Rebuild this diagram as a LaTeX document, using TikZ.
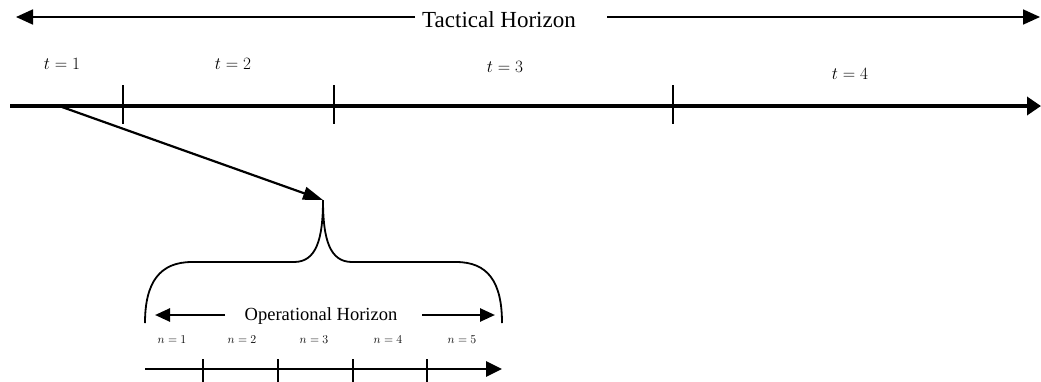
\documentclass[tikz,border=0pt]{standalone}
\usepackage{fontspec}
\setmainfont{Liberation Serif}
\usetikzlibrary{arrows.meta}
\begin{document}
\begin{tikzpicture}[x=1pt,y=-1pt,
  thinarrow/.style={line width=1.8pt,-{Triangle[length=17pt,width=15pt]}},
  mainaxis/.style={line width=4.5pt,-{Triangle[length=14pt,width=18pt]}},
  diagarrow/.style={line width=2.2pt,-{Triangle[length=20pt,width=13pt]}},
  oparrow/.style={line width=2.6pt,-{Triangle[length=15pt,width=13pt]}},
  subaxis/.style={line width=2.8pt,-{Triangle[length=16pt,width=15pt]}},
  bigtick/.style={line width=1.6pt},
  smalltick/.style={line width=1.5pt},
  brace/.style={line width=1.8pt},
  tlabel/.style={anchor=base,inner sep=0pt,font=\fontsize{17}{19}\selectfont},
  nlabel/.style={anchor=base,inner sep=0pt,font=\fontsize{12.5}{14}\selectfont},
]
\useasboundingbox (0,0) rectangle (1041,381);
% Tactical horizon
\node[anchor=base,inner sep=0pt,font=\fontsize{23}{26}\selectfont] (tact) at (499,27) {Tactical Horizon};
\coordinate (tL1) at (415,17); \coordinate (tL2) at (16,17);
\coordinate (tR1) at (607,17); \coordinate (tR2) at (1040,17);
\draw[thinarrow] (tL1) -- (tL2);
\draw[thinarrow] (tR1) -- (tR2);
% t labels
\node[tlabel] (t1) at (62,69) {$t=1$};
\node[tlabel] (t2) at (233,69) {$t=2$};
\node[tlabel] (t3) at (505,72) {$t=3$};
\node[tlabel] (t4) at (850,79) {$t=4$};
% main axis
\coordinate (a0) at (10,106); \coordinate (a1) at (1041,106);
\draw[mainaxis] (a0) -- (a1);
\foreach \x/\nm in {123/k1,334/k2,673/k3}{
  \coordinate (\nm top) at (\x,85); \coordinate (\nm bot) at (\x,124);
  \draw[bigtick] (\nm top) -- (\nm bot);
}
% diagonal arrow to brace tip
\coordinate (ds) at (62,107);
\coordinate (tip) at (323,200);
\draw[diagarrow] (ds) -- (tip);
% brace
\draw[brace] (145,323) .. controls (145,282) and (160,262) .. (192,262) -- (294,262)
  .. controls (316,262) and (323,240) .. (tip);
\draw[brace] (tip) .. controls (323,240) and (330,262) .. (352,262) -- (456,262)
  .. controls (488,262) and (502,282) .. (502,323);
% operational horizon
\node[anchor=base,inner sep=0pt,font=\fontsize{18.5}{21}\selectfont] (oper) at (321,320) {Operational Horizon};
\coordinate (oL1) at (225,315); \coordinate (oL2) at (155,315);
\coordinate (oR1) at (422,315); \coordinate (oR2) at (495,315);
\draw[oparrow] (oL1) -- (oL2);
\draw[oparrow] (oR1) -- (oR2);
% n labels
\node[nlabel] (n1) at (172,343) {$n=1$};
\node[nlabel] (n2) at (242,343) {$n=2$};
\node[nlabel] (n3) at (314,343) {$n=3$};
\node[nlabel] (n4) at (388,343) {$n=4$};
\node[nlabel] (n5) at (462,343) {$n=5$};
% sub axis
\coordinate (b0) at (145,369); \coordinate (b1) at (502,369);
\draw[subaxis] (b0) -- (b1);
\foreach \x/\nm in {203/s1,278/s2,353/s3,427/s4}{
  \coordinate (\nm top) at (\x,359); \coordinate (\nm bot) at (\x,385);
  \draw[smalltick] (\nm top) -- (\nm bot);
}
\end{tikzpicture}
\end{document}
